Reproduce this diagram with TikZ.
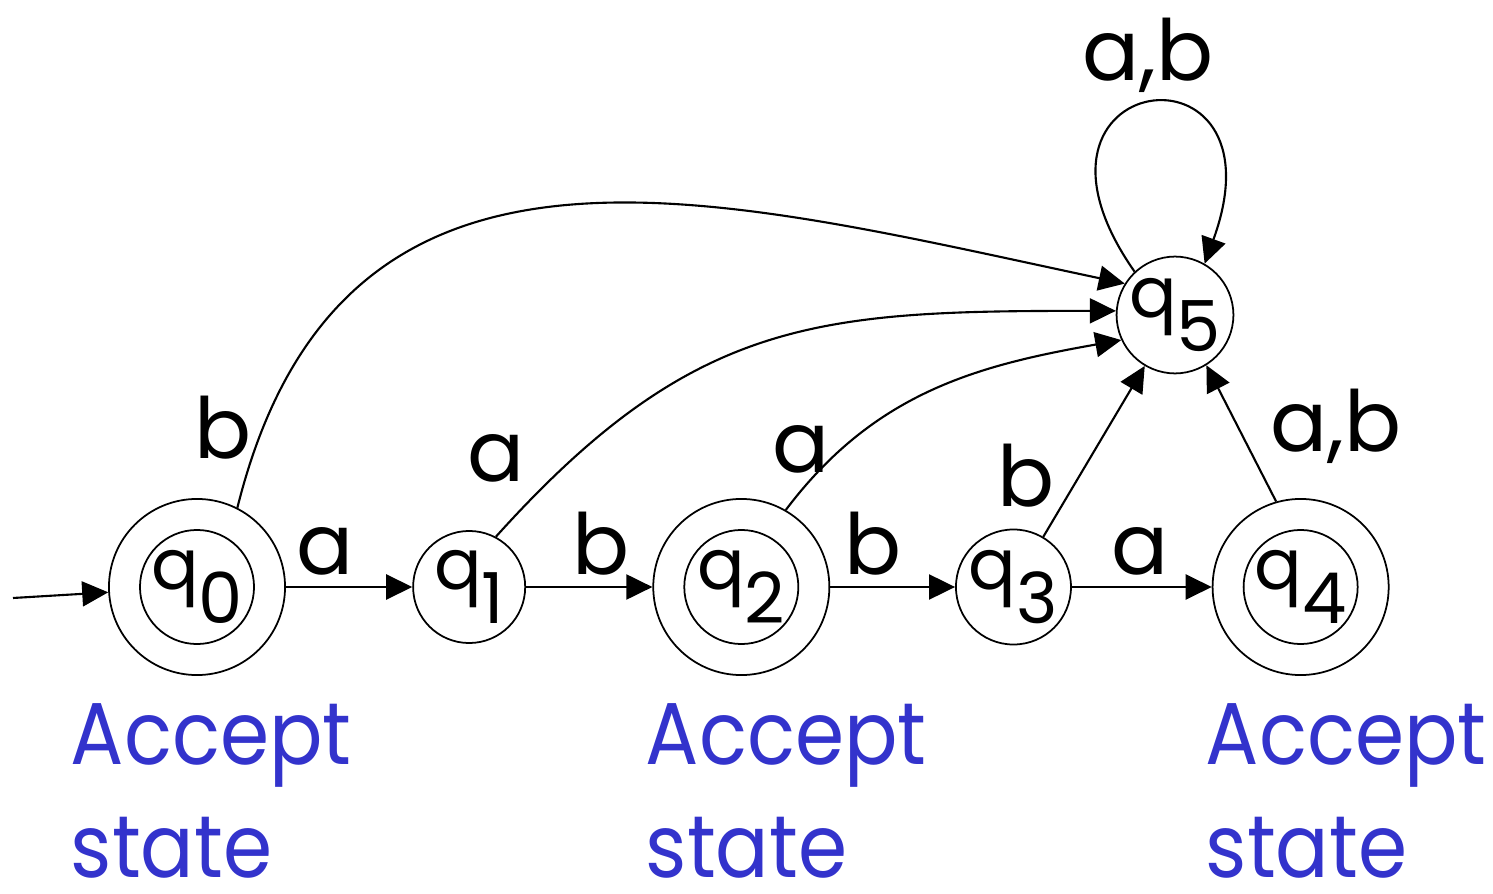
\documentclass[tikz,border=0pt]{standalone}
\usepackage{fontspec}
\setmainfont{Poppins}
\newfontfamily\notefamily[FakeStretch=0.9]{Poppins}
\usepackage{tikz}
\usetikzlibrary{positioning, arrows.meta}
\definecolor{noteblue}{RGB}{51,51,204}
\newcommand\qsub[1]{q\raisebox{-9.5pt}{#1}}

\begin{document}
\begin{tikzpicture}[
    x=0.01cm, y=-0.01cm,
    dfastate/.style={draw, circle, line width=0.5pt, inner sep=0pt,
      minimum size=1.12cm, font=\fontsize{20}{24}\selectfont},
    dfaaccept/.style={dfastate, minimum size=1.76cm,
      path picture={\draw[line width=0.5pt] (path picture bounding box.center) circle (0.57cm);}},
    edge/.style={-{Triangle[length=0.26cm, width=0.25cm]}, line width=0.6pt},
    lbl/.style={font=\fontsize{24}{28}\selectfont, inner sep=3pt},
    note/.style={text=noteblue, align=left, inner sep=0pt,
      font=\notefamily\fontsize{25}{32}\selectfont},
    node distance=2.72cm, on grid,
  ]
    \useasboundingbox (0,0) rectangle (1493,894);

    \node[dfaaccept] (q0) at (197,587) {\qsub{0}};
    \node[dfastate, right=of q0] (q1) {\qsub{1}};
    \node[dfaaccept, right=of q1] (q2) {\qsub{2}};
    \node[dfastate, right=of q2] (q3) {\qsub{3}};
    \node[dfaaccept, right=2.87cm of q3] (q4) {\qsub{4}};
    \node[dfastate] (q5) at (1175,315) {\qsub{5}};

    \coordinate (start) at (13,598);
    \draw[edge] (start) -- (q0);
    \draw[edge] (q0) -- node[lbl, above, pos=0.31] {a} (q1);
    \draw[edge] (q1) -- node[lbl, above, pos=0.59] {b} (q2);
    \draw[edge] (q2) -- node[lbl, above, pos=0.34] {b} (q3);
    \draw[edge] (q3) -- node[lbl, above, pos=0.49] {a} (q4);
    \draw[edge] (q0.63) to[out=76, in=168, out looseness=1.2, in looseness=1.2]
      node[lbl, left, pos=0.07] {b} (q5.148);
    \draw[edge] (q1.62) to[out=48, in=180, looseness=1.15]
      node[lbl, above left, pos=0.07] {a} (q5.176);
    \draw[edge] (q2.60) to[out=53, in=190]
      node[lbl, left, pos=0.2] {a} (q5.205);
    \draw[edge] (q3) -- node[lbl, left=4pt, pos=0.36] {b} (q5);
    \draw[edge] (q4.106) -- node[lbl, right=6pt, pos=0.55] {a,b} (q5.-58);
    \draw[edge] (q5.133) to[out=125, in=70, looseness=9]
      node[lbl, above] {a,b} (q5.60);

    \node[note, anchor=north west] (acc0) at (70,703) {Accept\\state};
    \node[note, anchor=north west] (acc2) at (645,703) {Accept\\state};
    \node[note, anchor=north west] (acc4) at (1205,703) {Accept\\state};
  \end{tikzpicture}
\end{document}
